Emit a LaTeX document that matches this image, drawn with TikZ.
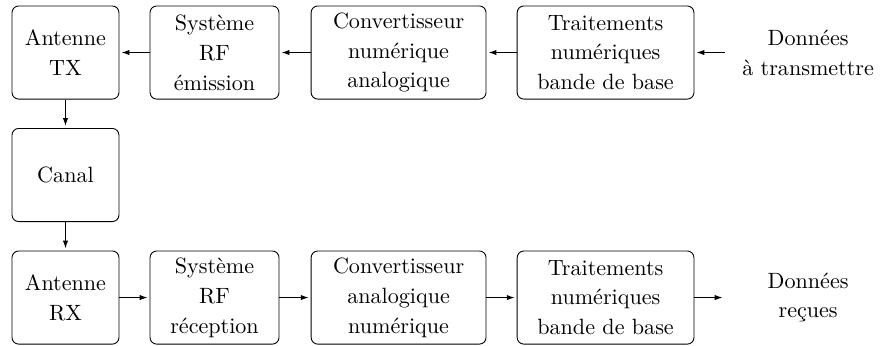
\documentclass[tikz,border=0pt]{standalone}
\usepackage{fontspec}
\usepackage{tikz}
\usetikzlibrary{arrows.meta}
\tikzset{
    bloc/.style={
        draw,
        rounded corners=3pt,
        minimum width=#1,
        minimum height=1.48cm,
        font=\fontsize{10}{13.5}\selectfont,
        align=center,
        inner sep=3pt
    },
    bloc/.default=1.7cm,
    donnees/.style={
        minimum width=2.64cm,
        minimum height=1.48cm,
        font=\fontsize{10}{13.5}\selectfont,
        align=center
    },
    fleche/.style={
        ->,
        >={Latex[length=3.5pt,width=2.4pt]},
        shorten >=1pt
    }
}
\begin{document}
\begin{tikzpicture}
        \useasboundingbox (0,0) rectangle (14.02,5.485);

        % Chaine d'emission
        \node[bloc] (antTX) at (1.041,4.65) {Antenne\\TX};
        \node[bloc=2.05cm] (rfTX) at (3.41,4.65) {Système\\RF\\émission};
        \node[bloc=2.78cm] (canTX) at (6.336,4.65) {Convertisseur\\numérique\\analogique};
        \node[bloc=2.81cm] (bbTX) at (9.626,4.65) {Traitements\\numériques\\bande de base};
        \node[donnees] (dataTX) at (12.846,4.65) {Données\\à transmettre};

        % Canal
        \node[bloc] (canal) at (1.041,2.703) {Canal};

        % Chaine de reception
        \node[bloc] (antRX) at (1.041,0.755) {Antenne\\RX};
        \node[bloc=2.05cm] (rfRX) at (3.41,0.755) {Système\\RF\\réception};
        \node[bloc=2.78cm] (canRX) at (6.336,0.755) {Convertisseur\\analogique\\numérique};
        \node[bloc=2.81cm] (bbRX) at (9.626,0.755) {Traitements\\numériques\\bande de base};
        \node[donnees] (dataRX) at (12.846,0.755) {Données\\reçues};

        % Fleches
        \draw[fleche] (dataTX) -- (bbTX);
        \draw[fleche] (bbTX) -- (canTX);
        \draw[fleche] (canTX) -- (rfTX);
        \draw[fleche] (rfTX) -- (antTX);
        \draw[fleche] (antTX) -- (canal);
        \draw[fleche] (canal) -- (antRX);
        \draw[fleche] (antRX) -- (rfRX);
        \draw[fleche] (rfRX) -- (canRX);
        \draw[fleche] (canRX) -- (bbRX);
        \draw[fleche] (bbRX) -- (dataRX);
    \end{tikzpicture}
\end{document}
